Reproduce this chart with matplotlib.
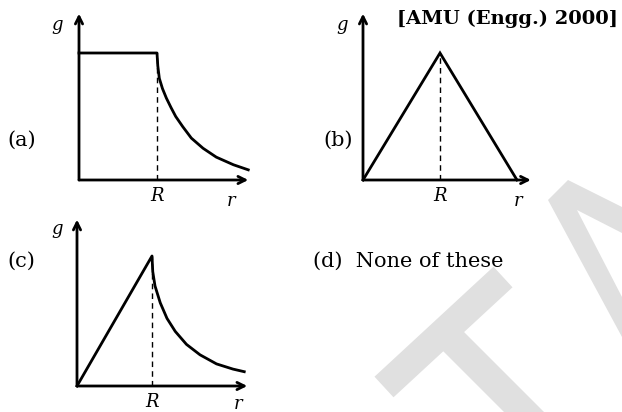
import matplotlib
matplotlib.use("Agg")
import matplotlib.pyplot as plt
from matplotlib.patches import Polygon

# ---------------- data (r in units of R, g in units of g_max) -------------
# (a) constant inside, falling outside
a_r = [0.0, 1.00, 1.01, 1.03, 1.07, 1.12, 1.18, 1.24, 1.33, 1.44, 1.59, 1.76, 1.98, 2.17]
a_g = [1.0, 1.00, 0.90, 0.80, 0.72, 0.645, 0.57, 0.50, 0.42, 0.33, 0.25, 0.18, 0.12, 0.08]
# (b) triangle
b_r = [0.0, 1.0, 2.0]
b_g = [0.0, 1.0, 0.0]
# (c) linear rise then falling curve
c_r = [0.0, 1.00, 1.01, 1.04, 1.11, 1.20, 1.31, 1.46, 1.64, 1.86, 2.08, 2.23]
c_g = [0.0, 1.00, 0.88, 0.77, 0.64, 0.52, 0.42, 0.32, 0.24, 0.17, 0.13, 0.11]

panel_labels = ["(a)", "(b)", "(c)"]
option_d = "(d)  None of these"
source = "[AMU (Engg.) 2000]"
y_name, x_name, mark_name = "g", "r", "R"

# ---------------- figure ----------------
W, H = 622, 412
fig = plt.figure(figsize=(W / 100, H / 100), dpi=100)
fig.patch.set_facecolor("white")

bg = fig.add_axes([0, 0, 1, 1])
bg.set_xlim(0, W)
bg.set_ylim(H, 0)
bg.axis("off")

# faint watermark shapes (background decoration)
wm = "#e0e0e0"
bg.add_patch(Polygon([(374.5, 376.7), (493.5, 266.7), (512.5, 287.3), (393.5, 397.3)],
                     closed=True, fc=wm, ec="none", zorder=0))
bg.add_patch(Polygon([(434, 342), (454, 322), (570, 438), (550, 458)],
                     closed=True, fc=wm, ec="none", zorder=0))
bg.add_patch(Polygon([(548, 200), (568, 180), (622, 207), (622, 233), (577, 210),
                      (622, 297), (622, 337)], closed=True, fc=wm, ec="none", zorder=0))

SERIF = ["DejaVu Serif"]
LW = 2.0


def panel(origin, rpx, gpx, xmax, ymax):
    ox, oy = origin
    ax = fig.add_axes([ox / W, (H - oy) / H, xmax * rpx / W, ymax * gpx / H])
    ax.set_xlim(0, xmax)
    ax.set_ylim(0, ymax)
    ax.axis("off")
    ax.patch.set_alpha(0)
    arrow = dict(arrowstyle="->", lw=LW, color="black", shrinkA=0, shrinkB=0,
                 mutation_scale=13)
    ax.annotate("", xy=(xmax, 0), xytext=(0, 0), arrowprops=arrow, annotation_clip=False)
    ax.annotate("", xy=(0, ymax), xytext=(0, 0), arrowprops=arrow, annotation_clip=False)
    return ax


def dashed(ax):
    ax.plot([1, 1], [0, 1], color="black", lw=1.0, ls=(0, (4, 3)), clip_on=False)


# (a)
axa = panel((79, 180), 78, 127, 2.17, 1.31)
axa.plot(a_r, a_g, color="black", lw=LW, solid_joinstyle="round", clip_on=False)
dashed(axa)

# (b)
axb = panel((363, 180), 77, 127, 2.18, 1.31)
axb.plot(b_r, b_g, color="black", lw=LW, solid_joinstyle="miter", clip_on=False)
dashed(axb)

# (c)
axc = panel((77, 386), 75, 130, 2.27, 1.28)
axc.plot(c_r, c_g, color="black", lw=LW, solid_joinstyle="round", clip_on=False)
dashed(axc)

# ---------------- texts ----------------
lab_fs = 15
ital_fs = 13
for (x, y), t in zip([(7, 140), (323, 140), (7, 261)], panel_labels):
    bg.text(x, y, t, fontsize=lab_fs, family=SERIF, ha="left", va="center")
bg.text(313, 261, option_d, fontsize=lab_fs, family=SERIF, ha="left", va="center")
bg.text(618, 19, source, fontsize=14, family=SERIF, weight="bold", ha="right", va="center")

for gx, gy in [(57, 25), (342, 25), (57, 229)]:
    bg.text(gx, gy, y_name, fontsize=ital_fs, family=SERIF, style="italic",
            ha="center", va="center")
for Rx, Ry in [(157, 196), (440, 196), (152, 402)]:
    bg.text(Rx, Ry, mark_name, fontsize=ital_fs, family=SERIF, style="italic",
            ha="center", va="center")
for rx, ry in [(231, 201), (518, 201), (238, 404)]:
    bg.text(rx, ry, x_name, fontsize=ital_fs, family=SERIF, style="italic",
            ha="center", va="center")

fig.savefig("out.png", dpi=100, facecolor="white")
